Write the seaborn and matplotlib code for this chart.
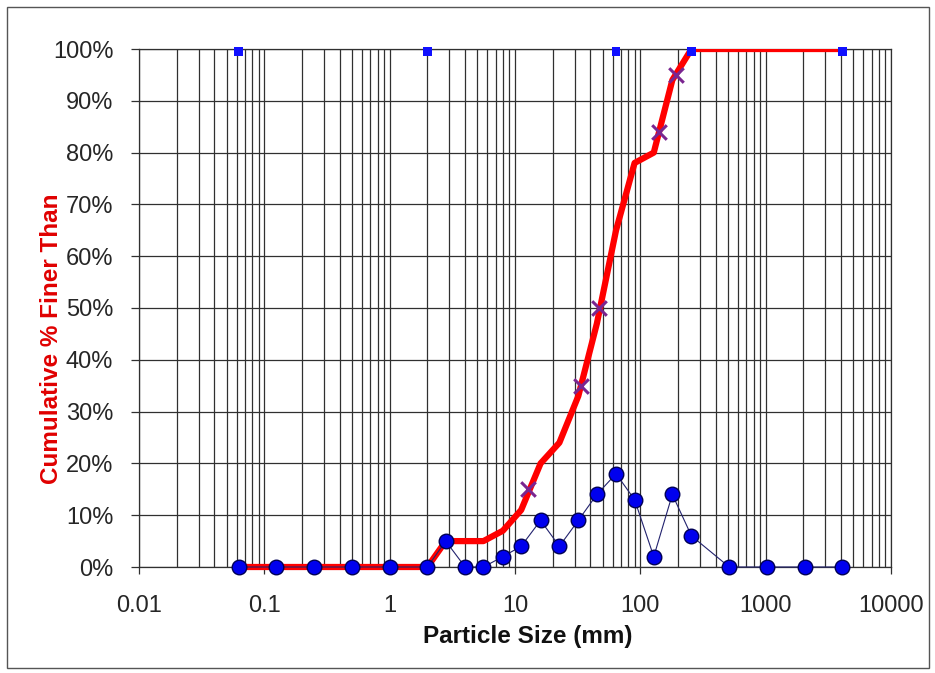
import pandas as pd
import seaborn as sns
import matplotlib.pyplot as plt
from matplotlib.ticker import LogLocator, FixedLocator, FixedFormatter, FuncFormatter, MultipleLocator, NullFormatter
from matplotlib.patches import Rectangle

# Valori
sizes_mm = [0.0625, 0.125, 0.25, 0.5, 1, 2, 2.8, 4, 5.6, 8, 11.2, 16, 22.6, 32,
            45, 64, 90, 128, 180, 256, 512, 1024, 2048, 4096]
pct_total = [0, 0, 0, 0, 0, 0, 5, 0, 0, 2, 4, 9, 4, 9, 14, 18, 13, 2, 14, 6, 0, 0, 0, 0]
pct_finer = [0, 0, 0, 0, 0, 0, 5, 5, 5, 7, 11, 20, 24, 33, 47, 65, 78, 80, 94, 100,
             100, 100, 100, 100]

# Percentili (D15, D35, D50, D84, D95)
d_sizes = [12.8, 33.6, 47.2, 141, 192]
d_pct = [15, 35, 50, 84, 95]

# Limiti di classe segnati in alto
class_sizes = [0.0625, 2, 64, 256, 4096]
class_pct = [99.5, 99.5, 99.5, 99.5, 99.5]

x_ticks = [0.01, 0.1, 1, 10, 100, 1000, 10000]
x_labels = ['0.01', '0.1', '1', '10', '100', '1000', '10000']

df = pd.DataFrame({'size': sizes_mm, 'total': pct_total, 'finer': pct_finer})
df_d = pd.DataFrame({'size': d_sizes, 'pct': d_pct})
df_c = pd.DataFrame({'size': class_sizes, 'pct': class_pct})

sns.set_style('white')
plt.rcParams['font.family'] = ['Liberation Sans', 'DejaVu Sans']

W, H = 935, 673
fig = plt.figure(figsize=(W / 100, H / 100), dpi=100)
fig.patches.append(Rectangle((7 / W, 5 / H), 922 / W, 661 / H, transform=fig.transFigure,
                             fill=False, edgecolor='#555555', lw=1))

L, R, T, B = 139, 891, 49, 567
ax = fig.add_axes([L / W, 1 - B / H, (R - L) / W, (B - T) / H])
ax.set_xscale('log')
ax.set_xlim(0.01, 10000)
ax.set_ylim(0, 100)

# griglia
grid_col = '#303030'
ax.xaxis.set_major_locator(FixedLocator(x_ticks))
ax.xaxis.set_major_formatter(FixedFormatter(x_labels))
ax.xaxis.set_minor_locator(LogLocator(base=10, subs=range(2, 10), numticks=20))
ax.xaxis.set_minor_formatter(NullFormatter())
ax.yaxis.set_major_locator(MultipleLocator(10))
ax.yaxis.set_major_formatter(FuncFormatter(lambda v, p: f'{v:.0f}%'))
ax.grid(True, which='both', axis='x', color=grid_col, lw=0.9)
ax.grid(True, which='major', axis='y', color=grid_col, lw=0.9)
ax.set_axisbelow(True)
for s in ax.spines.values():
    s.set_color(grid_col)
    s.set_linewidth(0.9)

ax.tick_params(axis='y', which='major', length=6, width=0.9, color=grid_col,
               direction='out', pad=12.5, labelsize=17, left=True)
ax.tick_params(axis='x', which='major', length=5, width=0.9, color=grid_col,
               direction='out', pad=15, labelsize=17, bottom=True)
ax.tick_params(axis='x', which='minor', length=0)

# curva cumulativa
sns.lineplot(data=df, x='size', y='finer', color='#ff0000', lw=4.5, ax=ax,
             errorbar=None, zorder=3)
red_line = ax.lines[-1]
red_line.set_clip_path(Rectangle((0, -0.05), 1, 1.05, transform=ax.transAxes))
red_line.set_solid_capstyle('butt')

sns.scatterplot(data=df_d, x='size', y='pct', marker='x', s=110, color='#7a2590',
                linewidth=2.2, ax=ax, zorder=4)

ax.set_xlabel('Particle Size (mm)', fontsize=17.5, fontweight='bold', color='#111111')
ax.xaxis.set_label_coords((527.5 - L) / (R - L), (B - 643) / (B - T))
ax.xaxis.label.set_va('baseline')
ax.set_ylabel('Cumulative % Finer Than', fontsize=17.5, fontweight='bold', color='#e00000')
ax.yaxis.set_label_coords((58 - L) / (R - L), (B - 339) / (B - T))
ax.yaxis.label.set_va('baseline')

# asse secondario
ax2 = ax.twinx()
ax2.set_ylim(0, 100)
ax2.set_xlim(0.01, 10000)
ax2.tick_params(axis='y', right=False, labelright=False)
for s in ax2.spines.values():
    s.set_visible(False)

sns.lineplot(data=df, x='size', y='total', color='#22226e', lw=0.8, ax=ax2,
             errorbar=None, zorder=3)
ax2.lines[-1].set_clip_on(False)
sns.scatterplot(data=df, x='size', y='total', s=110, color='#0000ee',
                edgecolor='#000055', linewidth=1, ax=ax2, zorder=4, clip_on=False)
sns.scatterplot(data=df_c, x='size', y='pct', marker='s', s=40, color='#1010ff',
                edgecolor='none', ax=ax2, zorder=5, clip_on=False)

ax2.set_ylabel('Percent of Total', fontsize=17.5, fontweight='bold', color='#0000cc',
               rotation=-90)
ax2.yaxis.set_label_coords((905 - L) / (R - L), (B - 339) / (B - T))
ax2.yaxis.label.set_va('baseline')
ax2.yaxis.label.set_ha('center')

fig.savefig('out.png', dpi=100, facecolor='white')
